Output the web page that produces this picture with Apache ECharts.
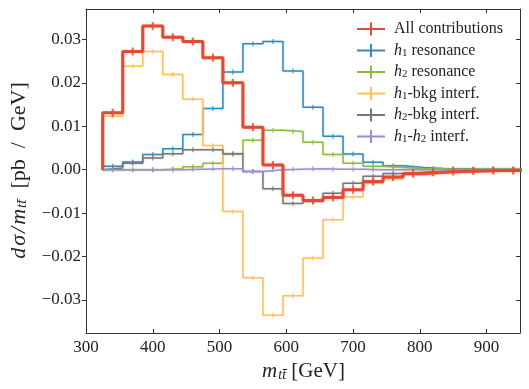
<!DOCTYPE html>
<html>
<head>
<meta charset="utf-8">
<script src="https://cdn.jsdelivr.net/npm/echarts@6/dist/echarts.min.js"></script>
<style>
  html, body { margin: 0; padding: 0; background: #fff; }
  #chart { width: 529px; height: 389px; }
</style>
</head>
<body>
<div id="chart"></div>
<script>
'use strict';

// bin edges in GeV (30 GeV bins)
var binEdges = [325, 355, 385, 415, 445, 475, 505, 535, 565, 595, 625,
                655, 685, 715, 745, 775, 805, 835, 865, 895, 925, 955];

// dsigma/dm per bin, pb/GeV
var allContrib = [0.0131, 0.0272, 0.0331, 0.0305, 0.0295, 0.0258, 0.0200, 0.0098, 0.0011, -0.0059, -0.0071,
                  -0.0064, -0.0046, -0.0027, -0.0017, -0.0009, -0.0006, -0.0004, -0.0003, -0.0002, -0.0002];
var h1Res      = [0.0008, 0.0018, 0.0035, 0.0048, 0.0081, 0.0141, 0.0225, 0.0290, 0.0295, 0.0227, 0.0144,
                  0.0077, 0.0036, 0.0017, 0.0009, 0.0005, 0.0003, 0.0002, 0.0001, 0.0001, 0.0001];
var h2Res      = [0.0000, 0.0000, 0.0000, 0.0002, 0.0007, 0.0015, 0.0036, 0.0068, 0.0091, 0.0088, 0.0063,
                  0.0035, 0.0015, 0.0008, 0.0005, 0.0003, 0.0002, 0.0001, 0.0001, 0.0001, 0.0000];
var h1Bkg      = [0.0123, 0.0238, 0.0272, 0.0219, 0.0162, 0.0056, -0.0096, -0.0249, -0.0335, -0.0290, -0.0204,
                  -0.0115, -0.0063, -0.0031, -0.0021, -0.0012, -0.0008, -0.0005, -0.0004, -0.0003, -0.0002];
var h2Bkg      = [0.0004, 0.0015, 0.0027, 0.0037, 0.0046, 0.0046, 0.0037, -0.0004, -0.0044, -0.0078, -0.0073,
                  -0.0054, -0.0031, -0.0015, -0.0009, -0.0006, -0.0004, -0.0003, -0.0002, -0.0002, -0.0001];
var h1h2       = [0.0000, 0.0000, 0.0000, 0.0000, 0.0001, 0.0002, 0.0002, -0.0004, 0.0000, 0.0001, 0.0002,
                  0.0001, 0.0001, 0.0000, 0.0000, 0.0000, 0.0000, 0.0000, 0.0000, 0.0000, 0.0000];

var xTicks = [300, 400, 500, 600, 700, 800, 900];
var yTicks = [-0.03, -0.02, -0.01, 0.00, 0.01, 0.02, 0.03];

var seriesNames  = ['All contributions', 'h1 resonance', 'h2 resonance',
                    'h1-bkg interf.', 'h2-bkg interf.', 'h1-h2 interf.'];
var seriesLabels = ['All contributions', '{i|h}{s|1} resonance', '{i|h}{s|2} resonance',
                    '{i|h}{s|1}-bkg interf.', '{i|h}{s|2}-bkg interf.', '{i|h}{s|1}-{i|h}{s|2} interf.'];
var seriesColors = ['#E24A33', '#348ABD', '#8EBA42', '#FBC15E', '#777777', '#988ED5'];
var seriesValues = [allContrib, h1Res, h2Res, h1Bkg, h2Bkg, h1h2];

var FONT = 'Liberation Serif';

function stepPoints(vals) {
  var pts = [];
  var prev = 0;
  for (var i = 0; i < vals.length; i++) {
    pts.push([binEdges[i], prev]);
    pts.push([binEdges[i], vals[i]]);
    prev = vals[i];
  }
  pts.push([binEdges[vals.length], prev]);
  return pts;
}

function centerPoints(vals) {
  var pts = [];
  for (var i = 0; i < vals.length; i++) {
    pts.push([(binEdges[i] + binEdges[i + 1]) / 2, vals[i]]);
  }
  return pts;
}

function fade(hex, a) {
  var n = parseInt(hex.slice(1), 16);
  return 'rgba(' + (n >> 16) + ',' + ((n >> 8) & 255) + ',' + (n & 255) + ',' + a + ')';
}

var series = [];
// draw components first, total on top
var order = [1, 2, 3, 4, 5, 0];
order.forEach(function(k, j) {
  var thick = (k === 0);
  series.push({
    name: seriesNames[k],
    type: 'line',
    data: stepPoints(seriesValues[k]),
    showSymbol: false,
    symbol: 'none',
    z: 2 + j,
    lineStyle: {
      color: seriesColors[k],
      width: thick ? 3 : 1.5,
      shadowColor: fade(seriesColors[k], 0.4),
      shadowBlur: 2
    },
    itemStyle: { color: seriesColors[k] },
    animation: false
  });
  series.push({
    name: seriesNames[k],
    type: 'scatter',
    data: centerPoints(seriesValues[k]),
    symbol: 'rect',
    symbolSize: thick ? [2.2, 8] : [1.3, 5],
    z: 2 + j,
    itemStyle: { color: seriesColors[k] },
    silent: true,
    animation: false
  });
});

var frameLine = { show: true, onZero: false, lineStyle: { color: '#333', width: 1 } };
var mathRich = function(size) {
  return {
    i: { fontFamily: FONT, fontSize: size, fontStyle: 'italic', color: '#222', padding: [0, 1, 0, 1] },
    s: { fontFamily: FONT, fontSize: Math.round(size * 0.66), fontStyle: 'italic', color: '#222', verticalAlign: 'bottom' }
  };
};

var chart = echarts.init(document.getElementById('chart'));
chart.setOption({
  backgroundColor: '#fff',
  animation: false,
  grid: { left: 85, right: 9, top: 9, bottom: 56 },
  legend: {
    data: seriesNames,
    orient: 'vertical',
    left: 352,
    top: 16,
    itemWidth: 28,
    itemHeight: 13,
    itemGap: 5.5,
    icon: 'path://M0,5.5h28v2h-28z M13,0h2v13h-2z',
    formatter: function(name) {
      return seriesLabels[seriesNames.indexOf(name)];
    },
    textStyle: {
      fontFamily: FONT, fontSize: 16, color: '#222', padding: [0, 0, 0, 4],
      rich: {
        i: { fontFamily: FONT, fontSize: 16, fontStyle: 'italic', color: '#222' },
        s: { fontFamily: FONT, fontSize: 11, color: '#222', verticalAlign: 'bottom' }
      }
    }
  },
  xAxis: [{
    type: 'value', min: 300, max: 950,
    name: '{i|m}{s|tt\u0304} [GeV]',
    nameLocation: 'middle', nameGap: 22,
    nameTextStyle: { fontFamily: FONT, fontSize: 21, color: '#222', rich: mathRich(21) },
    axisLine: frameLine,
    axisTick: { show: true, inside: true, length: 4, customValues: xTicks, lineStyle: { color: '#333' } },
    axisLabel: { customValues: xTicks, fontFamily: FONT, fontSize: 17, color: '#222', margin: 6 },
    splitLine: { show: false }
  }, {
    type: 'value', min: 300, max: 950, position: 'top',
    axisLine: frameLine,
    axisTick: { show: true, inside: true, length: 4, customValues: xTicks, lineStyle: { color: '#333' } },
    axisLabel: { show: false },
    splitLine: { show: false }
  }],
  yAxis: [{
    type: 'value', min: -0.0376, max: 0.0370,
    name: '{i|d}{i|\u03c3}{i|/}{i|m}{s|tt\u0304}  [pb  /  GeV]',
    nameLocation: 'middle', nameGap: 56,
    nameTextStyle: { fontFamily: FONT, fontSize: 22, color: '#222', rich: mathRich(22) },
    axisLine: frameLine,
    axisTick: { show: true, inside: false, length: 4, customValues: yTicks, lineStyle: { color: '#333' } },
    axisLabel: {
      customValues: yTicks, fontFamily: FONT, fontSize: 17, color: '#222', margin: 5,
      formatter: function(v) {
        return (v < -1e-9 ? '\u2212' : '') + Math.abs(v).toFixed(2);
      }
    },
    splitLine: { show: false }
  }, {
    type: 'value', min: -0.0376, max: 0.0370, position: 'right',
    axisLine: frameLine,
    axisTick: { show: true, inside: true, length: 4, customValues: yTicks, lineStyle: { color: '#333' } },
    axisLabel: { show: false },
    splitLine: { show: false }
  }],
  series: series
});
</script>
</body>
</html>
